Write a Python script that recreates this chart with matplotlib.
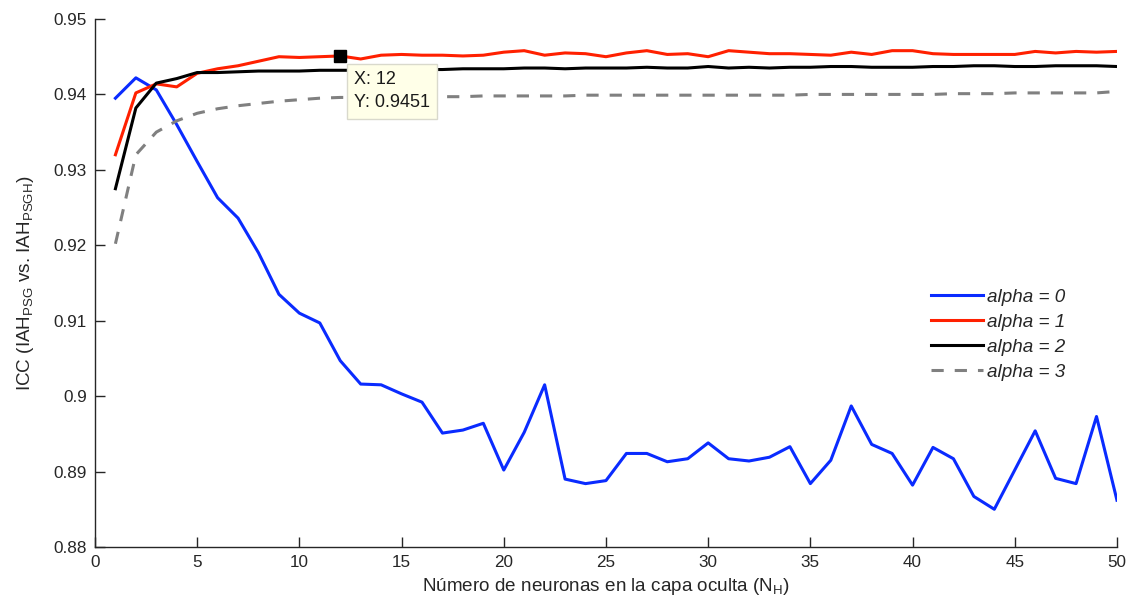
import numpy as np
import matplotlib
matplotlib.use('Agg')
import matplotlib.pyplot as plt
from matplotlib.ticker import FormatStrFormatter

plt.rcParams['font.family'] = ['Liberation Sans', 'DejaVu Sans']
plt.rcParams['mathtext.default'] = 'regular'

# number of hidden neurons
n_h = np.arange(1, 51)

icc_alpha0 = [0.9395, 0.9422, 0.9406, 0.9360, 0.9311, 0.9263, 0.9236, 0.9190, 0.9135, 0.9110,
              0.9097, 0.9047, 0.9016, 0.9015, 0.9003, 0.8992, 0.8951, 0.8955, 0.8964, 0.8902,
              0.8952, 0.9015, 0.8890, 0.8884, 0.8888, 0.8924, 0.8924, 0.8913, 0.8917, 0.8938,
              0.8917, 0.8914, 0.8919, 0.8933, 0.8884, 0.8915, 0.8987, 0.8936, 0.8924, 0.8882,
              0.8932, 0.8917, 0.8867, 0.8850, 0.8902, 0.8954, 0.8891, 0.8884, 0.8973, 0.8862]
icc_alpha1 = [0.9320, 0.9402, 0.9414, 0.9410, 0.9428, 0.9434, 0.9438, 0.9444, 0.9450, 0.9449,
              0.9450, 0.9451, 0.9447, 0.9452, 0.9453, 0.9452, 0.9452, 0.9451, 0.9452, 0.9456,
              0.9458, 0.9452, 0.9455, 0.9454, 0.9450, 0.9455, 0.9458, 0.9453, 0.9454, 0.9450,
              0.9458, 0.9456, 0.9454, 0.9454, 0.9453, 0.9452, 0.9456, 0.9453, 0.9458, 0.9458,
              0.9454, 0.9453, 0.9453, 0.9453, 0.9453, 0.9457, 0.9455, 0.9457, 0.9456, 0.9457]
icc_alpha2 = [0.9275, 0.9382, 0.9415, 0.9421, 0.9429, 0.9429, 0.9430, 0.9431, 0.9431, 0.9431,
              0.9432, 0.9432, 0.9432, 0.9432, 0.9432, 0.9433, 0.9433, 0.9434, 0.9434, 0.9434,
              0.9435, 0.9435, 0.9434, 0.9435, 0.9435, 0.9435, 0.9436, 0.9435, 0.9435, 0.9437,
              0.9435, 0.9436, 0.9435, 0.9436, 0.9436, 0.9437, 0.9437, 0.9436, 0.9436, 0.9436,
              0.9437, 0.9437, 0.9438, 0.9438, 0.9437, 0.9437, 0.9438, 0.9438, 0.9438, 0.9437]
icc_alpha3 = [0.9202, 0.9320, 0.9350, 0.9365, 0.9375, 0.9381, 0.9385, 0.9388, 0.9391, 0.9393,
              0.9395, 0.9396, 0.9396, 0.9397, 0.9397, 0.9397, 0.9397, 0.9397, 0.9398, 0.9398,
              0.9398, 0.9398, 0.9398, 0.9399, 0.9399, 0.9399, 0.9399, 0.9399, 0.9399, 0.9399,
              0.9399, 0.9399, 0.9399, 0.9399, 0.9400, 0.9400, 0.9400, 0.9400, 0.9400, 0.9400,
              0.9400, 0.9401, 0.9401, 0.9401, 0.9402, 0.9402, 0.9402, 0.9402, 0.9402, 0.9404]

labels = ['alpha = 0', 'alpha = 1', 'alpha = 2', 'alpha = 3']

# data tip
tip_x = 12
tip_y = icc_alpha1[tip_x - 1]

fig = plt.figure(figsize=(11.28, 6.03), dpi=100)
ax = fig.add_axes([0.0842, 0.0929, 0.9060, 0.8756])

dark = '#262626'
lw = 2.2
ax.plot(n_h, icc_alpha0, color='#0A2BFF', lw=lw, label=labels[0])
ax.plot(n_h, icc_alpha1, color='#FF2000', lw=lw, label=labels[1])
ax.plot(n_h, icc_alpha2, color='black', lw=lw, label=labels[2])
ax.plot(n_h, icc_alpha3, color='#808080', lw=lw, dashes=(4, 3.6), label=labels[3])

ax.set_xlim(0, 50)
ax.set_ylim(0.88, 0.95)
ax.set_xticks(np.arange(0, 51, 5))
ax.set_yticks(np.arange(0.88, 0.9501, 0.01))
ax.yaxis.set_major_formatter(FormatStrFormatter('%g'))

for s in ['top', 'right']:
    ax.spines[s].set_visible(False)
for s in ['left', 'bottom']:
    ax.spines[s].set_color(dark)
    ax.spines[s].set_linewidth(1.0)
ax.tick_params(direction='in', length=7, width=1.0, colors=dark, labelsize=12.3, pad=6)

ax.set_xlabel('Número de neuronas en la capa oculta (N$_H$)', fontsize=13.6, color=dark, labelpad=4)
ax.set_ylabel('ICC (IAH$_{PSG}$ vs. IAH$_{PSGH}$)', fontsize=13.6, color=dark, labelpad=12)

leg = ax.legend(loc='center left', bbox_to_anchor=(0.818, 0.402), frameon=False,
                borderpad=0, borderaxespad=0, handlelength=2.75, handletextpad=0.22,
                labelspacing=0.42, prop={'style': 'italic', 'size': 13.6})
for t in leg.get_texts():
    t.set_color(dark)

ax.plot([tip_x], [tip_y], marker='s', ms=8, color='black', zorder=6)
ax.annotate('X: %d\nY: %.4f' % (tip_x, tip_y), xy=(tip_x, tip_y), xytext=(14, -15),
            textcoords='offset pixels', ha='left', va='top', fontsize=13, color='#1a1a1a',
            linespacing=1.5, zorder=7,
            bbox=dict(boxstyle='square,pad=0.4', fc='#FFFFE8', ec='#D9D9CC', lw=1.0))

fig.savefig('out.png', dpi=100)
